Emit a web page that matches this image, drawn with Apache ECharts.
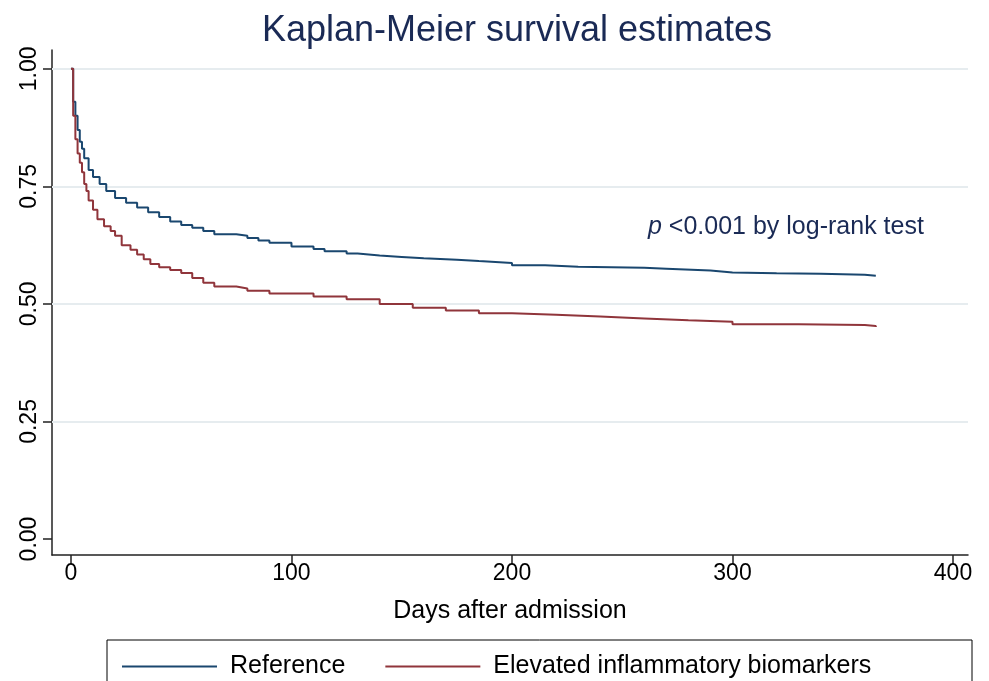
<!DOCTYPE html>
<html><head><meta charset="utf-8">
<script src="https://cdn.jsdelivr.net/npm/echarts@6/dist/echarts.min.js"></script>
<style>html,body{margin:0;background:#fff}#c{width:989px;height:681px}</style>
</head><body><div id="c"></div>
<script>
// survival estimates (day, survival)
var refDays = [0, 1, 2, 3, 4, 5, 6, 8, 10, 13, 16, 20, 25, 30, 35, 40, 45, 50, 55, 60, 65, 75, 80, 85, 90, 100, 110, 115, 125, 130, 140, 150, 160, 175, 185, 200, 215, 230, 260, 270, 290, 300, 320, 340, 360, 365];
var refSurv = [1.00, 0.93, 0.90, 0.87, 0.845, 0.83, 0.81, 0.785, 0.77, 0.755, 0.74, 0.725, 0.715, 0.705, 0.695, 0.685, 0.675, 0.668, 0.662, 0.655, 0.648, 0.645, 0.64, 0.635, 0.63, 0.622, 0.617, 0.612, 0.607, 0.603, 0.600, 0.597, 0.594, 0.591, 0.587, 0.582, 0.579, 0.577, 0.575, 0.571, 0.567, 0.565, 0.564, 0.562, 0.560, 0.559];
var elevDays = [0, 1, 2, 3, 4, 5, 6, 7, 8, 10, 12, 15, 18, 20, 23, 27, 30, 33, 36, 40, 45, 50, 55, 60, 65, 75, 80, 90, 110, 125, 140, 155, 170, 185, 200, 220, 240, 260, 280, 300, 330, 360, 365];
var elevSurv = [1.00, 0.90, 0.85, 0.82, 0.80, 0.78, 0.755, 0.74, 0.72, 0.70, 0.68, 0.665, 0.655, 0.645, 0.625, 0.615, 0.605, 0.595, 0.585, 0.578, 0.572, 0.566, 0.555, 0.545, 0.537, 0.533, 0.528, 0.522, 0.516, 0.510, 0.500, 0.492, 0.486, 0.480, 0.477, 0.473, 0.469, 0.465, 0.462, 0.457, 0.455, 0.453, 0.451];
var xTicks = [0, 100, 200, 300, 400];
var yTicks = [0, 0.25, 0.5, 0.75, 1];
var gridYs = [0.25, 0.5, 0.75, 1];
var seriesNames = ['Reference', 'Elevated inflammatory biomarkers'];

function pairs(d, s) { return d.map(function (v, i) { return [v, s[i]]; }); }

var chart = echarts.init(document.getElementById('c'));
var font = 'Liberation Sans, Arial, sans-serif';
var axisCol = '#222';
chart.setOption({
  animation: false,
  title: { text: 'Kaplan-Meier survival estimates', left: 512, top: 8, textAlign: 'center',
    textStyle: { fontFamily: font, fontSize: 36, fontWeight: 'normal', color: '#1a2a55' } },
  grid: { left: 52, right: 21, top: 50, bottom: 126 },
  xAxis: { type: 'value', min: -8.6, max: 406.8,
    name: 'Days after admission', nameLocation: 'middle', nameGap: 44,
    nameTextStyle: { fontFamily: font, fontSize: 25, color: '#000' },
    axisLine: { onZero: false, lineStyle: { color: axisCol, width: 1.5 } },
    axisTick: { customValues: xTicks, length: 9, lineStyle: { color: axisCol, width: 1.5 } },
    axisLabel: { customValues: xTicks, fontFamily: font, fontSize: 23, color: '#000', margin: 7 },
    splitLine: { show: false } },
  yAxis: { type: 'value', min: -0.034, max: 1.04,
    axisLine: { show: true, onZero: false, lineStyle: { color: axisCol, width: 1.5 } },
    axisTick: { show: true, customValues: yTicks, length: 9, lineStyle: { color: axisCol, width: 1.5 } },
    axisLabel: { customValues: yTicks, rotate: 90, fontFamily: font, fontSize: 23, color: '#000', margin: 11,
      formatter: function (v) { return v.toFixed(2); } },
    splitLine: { show: false } },
  legend: { left: 117, top: 649, itemWidth: 95, itemHeight: 2, itemGap: 40, icon: 'rect',
    textStyle: { fontFamily: font, fontSize: 25, color: '#000', padding: [0, 0, 0, 8] },
    data: seriesNames },
  graphic: [
    { type: 'rect', shape: { x: 107, y: 640, width: 865, height: 60 },
      style: { fill: 'none', stroke: '#000', lineWidth: 1 } },
    { type: 'text', left: 648, top: 215, style: { rich: { i: { fontStyle: 'italic', fontFamily: font, fontSize: 25, fill: '#1a2a55' },
      n: { fontFamily: font, fontSize: 25, fill: '#1a2a55' } }, text: '{i|p }{n|<0.001 by log-rank test}' } }
  ],
  series: [
    { name: 'grid', type: 'line', data: [], z: 1,
      markLine: { silent: true, symbol: 'none', label: { show: false },
        lineStyle: { color: '#e6ecef', type: 'solid', width: 2 },
        data: gridYs.map(function (v) { return { yAxis: v }; }) } },
    { name: seriesNames[0], type: 'line', step: 'end', showSymbol: false, zlevel: 1, data: pairs(refDays, refSurv),
      lineStyle: { color: '#1a476f', width: 2 }, itemStyle: { color: '#1a476f' } },
    { name: seriesNames[1], type: 'line', step: 'end', showSymbol: false, zlevel: 1, data: pairs(elevDays, elevSurv),
      lineStyle: { color: '#90353b', width: 2 }, itemStyle: { color: '#90353b' } }
  ]
});
</script></body></html>
